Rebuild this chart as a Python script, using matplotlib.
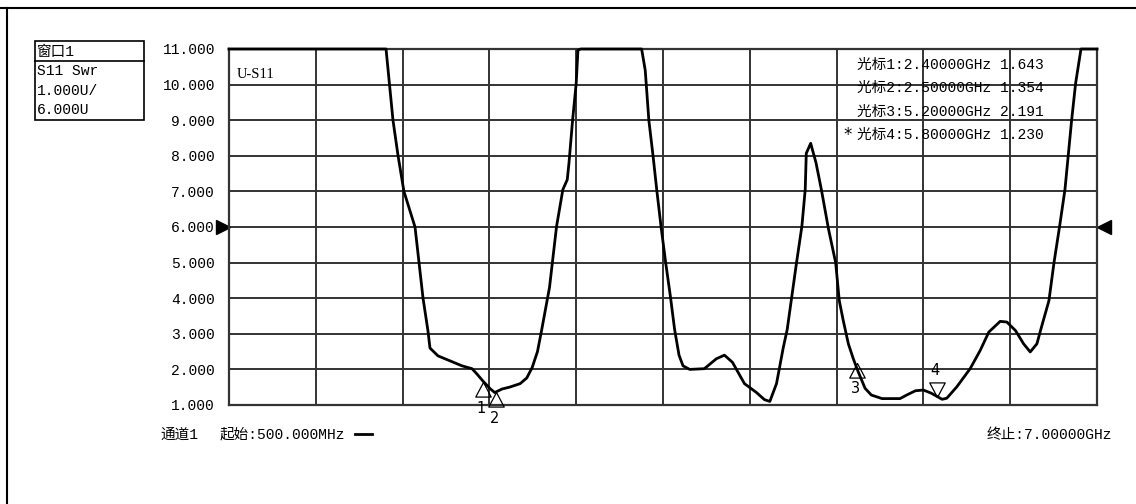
import matplotlib
matplotlib.use("Agg")
import matplotlib.pyplot as plt
from matplotlib.lines import Line2D
import matplotlib.transforms as mtransforms

plt.rcParams['font.family'] = ['Liberation Mono', 'Noto Sans CJK SC', 'DejaVu Sans']

# S11 SWR trace (GHz, SWR; screen clips at 11)
freq = [0.5, 1.676, 1.728, 1.766, 1.81, 1.893, 1.923, 1.953, 1.99, 2.005, 2.065,
        2.155, 2.245, 2.32, 2.357, 2.40, 2.455, 2.49, 2.545, 2.60, 2.68, 2.73,
        2.77, 2.81, 2.84, 2.90, 2.953, 3.0, 3.033, 3.046, 3.073, 3.1, 3.113,
        3.135, 3.59, 3.617, 3.644, 3.676, 3.703, 3.735, 3.77, 3.805, 3.837,
        3.87, 3.90, 3.95, 4.06, 4.15, 4.21, 4.27, 4.36, 4.45, 4.51, 4.55, 4.6,
        4.65, 4.68, 4.75, 4.79, 4.815, 4.823, 4.856, 4.896, 4.936, 4.99, 5.043,
        5.07, 5.1, 5.138, 5.175, 5.21, 5.263, 5.31, 5.39, 5.525, 5.575, 5.64,
        5.7, 5.76, 5.84, 5.875, 5.95, 6.05, 6.125, 6.19, 6.275, 6.325, 6.39,
        6.45, 6.50, 6.55, 6.585, 6.64, 6.678, 6.72, 6.76, 6.81, 6.84, 6.88, 7.0]
swr = [11, 11, 9.0, 8.0, 7.0, 6.0, 5.0, 4.0, 3.08, 2.6, 2.38,
       2.24, 2.1, 2.02, 1.87, 1.68, 1.46, 1.35, 1.45, 1.5, 1.6, 1.76,
       2.05, 2.5, 3.08, 4.3, 6.02, 7.05, 7.33, 7.8, 9.0, 10.04, 10.97,
       11, 11, 10.4, 9.0, 7.98, 7.05, 6.02, 5.0, 4.06, 3.12,
       2.4, 2.1, 2.0, 2.02, 2.3, 2.4, 2.2, 1.6, 1.35, 1.15, 1.1, 1.6,
       2.6, 3.12, 5.0, 6.02, 7.05, 8.07, 8.35, 7.8, 7.05, 5.93, 5.0,
       3.93, 3.37, 2.72, 2.3, 1.95, 1.47, 1.28, 1.18, 1.18, 1.28, 1.40,
       1.42, 1.33, 1.16, 1.19, 1.51, 2.02, 2.53, 3.05, 3.35, 3.33, 3.09,
       2.72, 2.49, 2.72, 3.2, 3.93, 5.0, 6.02, 7.05, 9.0, 10.04, 11, 11]

# markers
mk_freq = [2.4, 2.5, 5.2, 5.8]
mk_swr = [1.643, 1.354, 2.191, 1.230]
mk_lines = ["光标1:2.40000GHz 1.643",
            "光标2:2.50000GHz 1.354",
            "光标3:5.20000GHz 2.191",
            "光标4:5.80000GHz 1.230"]

start_ghz, stop_ghz = 0.5, 7.0
y_min, y_max = 1.0, 11.0
ref_level = 6.0

W, H = 1136, 504
fig = plt.figure(figsize=(W / 100, H / 100), dpi=100)
fig.patch.set_facecolor('white')

# plot area in pixels: x 229..1097, y 49..405
ax = fig.add_axes([229 / W, 1 - 405 / H, 868 / W, 356 / H])
ax.set_xlim(start_ghz, stop_ghz)
ax.set_ylim(y_min, y_max)

step = (stop_ghz - start_ghz) / 10
ax.set_xticks([start_ghz + i * step for i in range(11)])
ax.set_yticks(range(1, 12))
ax.set_yticklabels(["%.3f" % v for v in range(1, 12)], fontsize=10.5)
ax.tick_params(axis='x', length=0, labelbottom=False)
ax.tick_params(axis='y', length=0, pad=10)
ax.grid(True, color='#333333', linewidth=1.4)
for s in ax.spines.values():
    s.set_color('#333333')
    s.set_linewidth(1.6)

ax.plot(freq, swr, color='black', linewidth=2.0, zorder=5, clip_on=False)

# marker triangles, apex on the trace
up = [(0, 0), (-0.53, -1), (0.53, -1), (0, 0)]
down = [(0, 0), (-0.53, 1), (0.53, 1), (0, 0)]
for i in range(4):
    verts = down if i == 3 else up
    ax.plot(mk_freq[i], mk_swr[i], marker=verts, markersize=21,
            markerfacecolor='none', markeredgecolor='black',
            markeredgewidth=0.9, zorder=6, clip_on=False)
    dy = 19 if i == 3 else -19
    ax.annotate(str(i + 1), (mk_freq[i], mk_swr[i]), xytext=(-1, dy),
                textcoords='offset points', ha='center', va='center',
                fontsize=10.5, family=['DejaVu Sans'], zorder=7)

# reference level arrows
btf = mtransforms.blended_transform_factory(ax.transAxes, ax.transData)
ax.plot([-0.007], [ref_level], marker='>', markersize=10, color='black',
        transform=btf, clip_on=False)
ax.plot([1.008], [ref_level], marker='<', markersize=10, color='black',
        transform=btf, clip_on=False)

ax.text(8 / 868, 1 - (75 - 49) / 356, "U-S11", transform=ax.transAxes,
        fontsize=10.5, va='center', ha='left', family=['Liberation Serif'])

# marker readout
for i, line in enumerate(mk_lines):
    fig.text(857 / W, 1 - (65 + i * 23.3) / H, line, fontsize=10.5, va='center', ha='left')
fig.text(848 / W, 1 - 135 / H, "*", fontsize=12, va='center', ha='center',
         family=['DejaVu Sans'])

# window box top-left
box = plt.Rectangle((35 / W, 1 - 120 / H), 109 / W, 79 / H, transform=fig.transFigure,
                    fill=False, edgecolor='black', linewidth=1.2)
fig.add_artist(box)
fig.add_artist(Line2D([35 / W, 144 / W], [1 - 61 / H, 1 - 61 / H],
                      transform=fig.transFigure, color='black', linewidth=1.2))
for txt, yy in [("窗口1", 52), ("S11 Swr", 71), ("1.000U/", 91), ("6.000U", 110)]:
    fig.text(37 / W, 1 - yy / H, txt, fontsize=10.5, va='center', ha='left',
             family=['Liberation Mono', 'Noto Sans CJK SC'])

# bottom status line
fig.text(160 / W, 1 - 435 / H, "通道1", fontsize=10.5, va='center', ha='left')
fig.text(220 / W, 1 - 435 / H, "起始:500.000MHz", fontsize=10.5, va='center', ha='left')
fig.add_artist(Line2D([355 / W, 372 / W], [1 - 434 / H, 1 - 434 / H],
                      transform=fig.transFigure, color='black', linewidth=2))
fig.text(1112 / W, 1 - 435 / H, "终止:7.00000GHz", fontsize=10.5, va='center', ha='right')

# outer frame
fig.add_artist(Line2D([6.5 / W, 6.5 / W], [0, 1 - 8 / H], transform=fig.transFigure,
                      color='black', linewidth=1.5))
fig.add_artist(Line2D([0, 1], [1 - 8 / H, 1 - 8 / H], transform=fig.transFigure,
                      color='black', linewidth=1.5))

fig.savefig("out.png", dpi=100)
